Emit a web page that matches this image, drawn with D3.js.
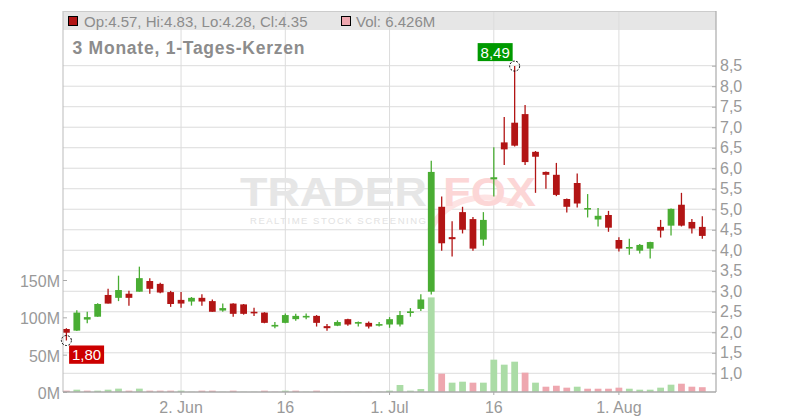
<!DOCTYPE html>
<html><head><meta charset="utf-8">
<script src="https://cdn.jsdelivr.net/npm/d3@7"></script>
<style>
body{margin:0;background:#fff}
svg{display:block;font-family:"Liberation Sans",Arial,sans-serif}
</style>
</head><body>
<svg id="c" width="800" height="420"></svg>
<script>
// ---------- data ----------
const dates = ["2025-05-15","2025-05-16","2025-05-19","2025-05-20","2025-05-21","2025-05-22","2025-05-23","2025-05-27","2025-05-28","2025-05-29","2025-05-30",
"2025-06-02","2025-06-03","2025-06-04","2025-06-05","2025-06-06","2025-06-09","2025-06-10","2025-06-11","2025-06-12","2025-06-13",
"2025-06-16","2025-06-17","2025-06-18","2025-06-20","2025-06-23","2025-06-24","2025-06-25","2025-06-26","2025-06-27","2025-06-30",
"2025-07-01","2025-07-02","2025-07-03","2025-07-07","2025-07-08","2025-07-09","2025-07-10","2025-07-11","2025-07-14","2025-07-15",
"2025-07-16","2025-07-17","2025-07-18","2025-07-21","2025-07-22","2025-07-23","2025-07-24","2025-07-25","2025-07-28","2025-07-29",
"2025-07-30","2025-07-31","2025-08-01","2025-08-04","2025-08-05","2025-08-06","2025-08-07","2025-08-08","2025-08-11","2025-08-12","2025-08-13"];
const open  = [2.08,2.04,2.31,2.38,2.91,2.84,2.94,2.99,3.25,3.18,2.98,2.79,2.75,2.84,2.76,2.53,2.70,2.68,2.50,2.48,2.14,2.23,2.32,2.38,2.40,2.15,2.16,2.32,2.21,2.23,2.18,2.19,2.19,2.47,2.57,2.99,5.06,4.32,4.93,4.76,4.26,5.73,6.63,7.11,7.32,6.40,5.91,5.84,5.25,5.64,5.01,4.75,4.86,4.25,4.04,3.99,4.04,4.57,4.60,5.11,4.69,4.57];
const high  = [2.10,2.54,2.50,2.71,3.06,3.38,3.01,3.60,3.32,3.21,3.01,2.98,2.86,2.93,2.80,2.70,2.71,2.69,2.60,2.49,2.25,2.46,2.45,2.46,2.42,2.20,2.29,2.33,2.26,2.26,2.25,2.37,2.52,2.59,2.93,6.18,5.31,4.71,5.06,4.81,4.93,6.51,7.25,8.49,7.54,6.42,5.92,6.13,5.26,5.87,5.37,5.03,4.96,4.32,4.28,4.15,4.21,4.74,5.02,5.40,4.76,4.83];
const low   = [1.80,2.03,2.22,2.38,2.70,2.76,2.65,2.99,2.94,2.95,2.62,2.60,2.65,2.65,2.50,2.50,2.38,2.43,2.40,2.22,2.10,2.22,2.28,2.32,2.14,2.04,2.15,2.16,2.14,2.09,2.14,2.11,2.14,2.38,2.52,2.92,3.99,3.85,4.41,3.99,4.11,5.31,6.08,6.53,6.08,5.40,5.50,5.32,4.92,5.04,4.80,4.58,4.45,3.97,3.89,3.92,3.80,4.31,4.36,4.58,4.41,4.28];
const close = [1.99,2.48,2.37,2.69,2.70,3.03,2.84,3.32,3.06,2.97,2.69,2.70,2.84,2.75,2.50,2.59,2.45,2.45,2.48,2.23,2.18,2.42,2.40,2.40,2.23,2.10,2.25,2.19,2.25,2.14,2.20,2.32,2.42,2.51,2.80,5.91,4.17,4.27,4.50,4.04,4.74,5.78,6.46,6.55,6.15,6.28,5.84,5.35,5.06,5.14,5.03,4.84,4.55,4.04,4.08,4.13,4.20,4.48,5.01,4.60,4.53,4.35];
const volumeM = [1.8,3.1,1.8,1.8,3.1,4.5,1.8,4.5,1.8,1.8,1.8,1.8,0.3,1.8,1.8,0.3,1.8,0.3,0.3,1.8,0.3,1.8,1.8,0.3,1.8,0.3,0.3,0.3,0.3,0.3,0.3,1.8,9.4,1.8,4.0,126.7,24.5,12.5,13.8,12.5,12.5,43.3,36.6,40.6,25.9,12.5,7.1,8.4,5.8,7.1,4.4,4.4,4.4,5.8,4.4,3.1,3.1,5.8,9.8,11.1,7.1,6.426];
const priceTicks = [1.0,1.5,2.0,2.5,3.0,3.5,4.0,4.5,5.0,5.5,6.0,6.5,7.0,7.5,8.0,8.5];
const volumeTicks = [0,50,100,150];
const volumeTickLabels = ["0M","50M","100M","150M"];
const xTickDates = ["2025-06-02","2025-06-16","2025-07-01","2025-07-16","2025-08-01"];
const xTickLabels = ["2. Jun","16","1. Jul","16","1. Aug"];
const title = "3 Monate, 1-Tages-Kerzen";
const maxIdx = 43, minIdx = 0;

// ---------- layout ----------
const L = 63, R = 716, T = 11, HB = 30, B = 392;
const RED = "#b21515", GREEN = "#49ad33", VGREEN = "#abdca6", VRED = "#eea7af";
const GRID = "#dcdcdc", AXIS = "#aaaaaa", TXT = "#999999";

const svg = d3.select("#c");
const x = d3.scaleBand().domain(dates).range([L, L + 10.366 * dates.length]).paddingInner(0.35).paddingOuter(0);
const cx = d => x(d) + x.bandwidth() / 2;
const y = d3.scaleLinear().domain([1, 8.5]).range([373.3, 65.7]);
const yv = d3.scaleLinear().domain([0, 150]).range([B, 280]);

const fmt = v => d3.format(".1f")(v).replace(".", ",");
const fmt2 = v => d3.format(".2f")(v).replace(".", ",");

// header band
svg.append("rect").attr("x", L).attr("y", T).attr("width", R - L).attr("height", HB - T).attr("fill", "#e6e6e6");

// gridlines
svg.append("g").selectAll("line").data(priceTicks).join("line")
  .attr("x1", L).attr("x2", R).attr("y1", d => y(d)).attr("y2", d => y(d))
  .attr("stroke", GRID).attr("stroke-width", 1);
svg.append("g").selectAll("line").data(xTickDates).join("line")
  .attr("x1", d => cx(d)).attr("x2", d => cx(d)).attr("y1", T).attr("y2", B)
  .attr("stroke", GRID).attr("stroke-width", 1);

// watermark
const wm = svg.append("g");
wm.append("path").attr("d", "M430,230 C445,200 480,188 522,206").attr("fill", "none").attr("stroke", "#fde3e3").attr("stroke-width", 6);
wm.append("text").attr("x", 240).attr("y", 206).attr("font-size", 40).attr("font-weight", 900)
  .attr("fill", "#e6e6e6").attr("textLength", 187).attr("lengthAdjust", "spacingAndGlyphs").text("TRADER");
wm.append("text").attr("x", 443).attr("y", 206).attr("font-size", 40).attr("font-weight", 900)
  .attr("fill", "#fcd6d6").attr("textLength", 93).attr("lengthAdjust", "spacingAndGlyphs").text("FOX");
wm.append("text").attr("x", 250).attr("y", 224).attr("font-size", 9.5)
  .attr("fill", "#e2e2e2").attr("textLength", 176).attr("lengthAdjust", "spacing").text("REALTIME STOCK SCREENING");

// volume bars
const bars = dates.map((d, i) => ({d, v: volumeM[i], up: i === 0 ? close[i] >= open[i] : close[i] >= close[i - 1]}));
svg.append("g").selectAll("rect").data(bars).join("rect")
  .attr("x", b => x(b.d)).attr("width", x.bandwidth())
  .attr("y", b => yv(b.v)).attr("height", b => B - yv(b.v))
  .attr("fill", b => b.up ? VGREEN : VRED);

// candles
const candles = dates.map((d, i) => ({d, o: open[i], h: high[i], l: low[i], c: close[i]}));
const cg = svg.append("g");
cg.selectAll("line").data(candles).join("line")
  .attr("x1", k => cx(k.d)).attr("x2", k => cx(k.d))
  .attr("y1", k => y(k.h)).attr("y2", k => y(k.l))
  .attr("stroke", k => k.c >= k.o ? GREEN : RED).attr("stroke-width", 1.3);
cg.selectAll("rect").data(candles).join("rect")
  .attr("x", k => x(k.d)).attr("width", x.bandwidth())
  .attr("y", k => y(Math.max(k.o, k.c)))
  .attr("height", k => Math.max(1.6, Math.abs(y(k.o) - y(k.c))))
  .attr("fill", k => k.c >= k.o ? GREEN : RED);

// axes frame
svg.append("line").attr("x1", L).attr("x2", L).attr("y1", T).attr("y2", B).attr("stroke", "#bbbbbb");
svg.append("line").attr("x1", L).attr("x2", R).attr("y1", T + 0.5).attr("y2", T + 0.5).attr("stroke", "#cccccc");
svg.append("line").attr("x1", R).attr("x2", R).attr("y1", T).attr("y2", B).attr("stroke", AXIS).attr("stroke-width", 1.2);
svg.append("line").attr("x1", L).attr("x2", R).attr("y1", B).attr("y2", B).attr("stroke", AXIS).attr("stroke-width", 1.5);

// right price axis
const ra = svg.append("g").attr("transform", `translate(${R},0)`)
  .call(d3.axisRight(y).tickValues(priceTicks).tickSize(0).tickPadding(4).tickFormat(fmt));
ra.select(".domain").remove();
ra.selectAll("text").attr("font-size", 16).attr("fill", TXT).attr("font-family", "Liberation Sans, Arial, sans-serif");
ra.selectAll(".tick").append("line").attr("x1", -4).attr("x2", 0).attr("stroke", AXIS);

// left volume axis
const la = svg.append("g").attr("transform", `translate(${L},0)`)
  .call(d3.axisLeft(yv).tickValues(volumeTicks).tickSize(0).tickPadding(3).tickFormat((d, i) => volumeTickLabels[i]));
la.select(".domain").remove();
la.selectAll("text").attr("font-size", 16).attr("fill", TXT).attr("font-family", "Liberation Sans, Arial, sans-serif").attr("dy", "0.4em");
la.selectAll(".tick").append("line").attr("x1", 0).attr("x2", 4).attr("stroke", AXIS);

// bottom axis
const ba = svg.append("g").attr("transform", `translate(0,${B})`)
  .call(d3.axisBottom(x).tickValues(xTickDates).tickSize(3).tickPadding(7).tickFormat((d, i) => xTickLabels[i]));
ba.select(".domain").remove();
ba.selectAll("line").attr("stroke", AXIS);
ba.selectAll("text").attr("font-size", 16).attr("fill", TXT).attr("font-family", "Liberation Sans, Arial, sans-serif");

// header legend
svg.append("rect").attr("x", 68.5).attr("y", 16.5).attr("width", 9).attr("height", 9).attr("fill", RED).attr("stroke", "#000");
const last = dates.length - 1;
svg.append("text").attr("x", 84).attr("y", 26.5).attr("font-size", 15).attr("fill", "#8c8c8c")
  .text(`Op:${open[last].toFixed(2)}, Hi:${high[last].toFixed(2)}, Lo:${low[last].toFixed(2)}, Cl:${close[last].toFixed(2)}`);
svg.append("rect").attr("x", 341.5).attr("y", 16.5).attr("width", 9).attr("height", 9)
  .attr("fill", bars[last].up ? VGREEN : VRED).attr("stroke", "#000");
svg.append("text").attr("x", 356).attr("y", 26.5).attr("font-size", 15).attr("fill", "#8c8c8c")
  .text(`Vol: ${volumeM[last].toFixed(3)}M`);

// title
svg.append("text").attr("x", 72.5).attr("y", 54).attr("font-size", 17.5).attr("font-weight", "bold")
  .attr("fill", "#8c8c8c").attr("textLength", 232).attr("lengthAdjust", "spacing").text(title);

// annotations
const hx = cx(dates[maxIdx]), hy = y(high[maxIdx]);
svg.append("circle").attr("cx", hx).attr("cy", hy).attr("r", 5).attr("fill", "none")
  .attr("stroke", "#000").attr("stroke-dasharray", "2,1.5");
svg.append("rect").attr("x", hx - 37).attr("y", hy - 23).attr("width", 35).attr("height", 18).attr("fill", "#009900");
svg.append("text").attr("x", hx - 19.5).attr("y", hy - 8.5).attr("text-anchor", "middle").attr("font-size", 15)
  .attr("fill", "#fff").text(fmt2(high[maxIdx]));

const lx = cx(dates[minIdx]), ly = y(low[minIdx]);
svg.append("circle").attr("cx", lx).attr("cy", ly).attr("r", 5).attr("fill", "none")
  .attr("stroke", "#000").attr("stroke-dasharray", "2,1.5");
svg.append("rect").attr("x", lx + 2.7).attr("y", ly + 5).attr("width", 35).attr("height", 18.3).attr("fill", "#cc0000");
svg.append("text").attr("x", lx + 20.2).attr("y", ly + 19.5).attr("text-anchor", "middle").attr("font-size", 15)
  .attr("fill", "#fff").text(fmt2(low[minIdx]));
</script>
</body></html>
